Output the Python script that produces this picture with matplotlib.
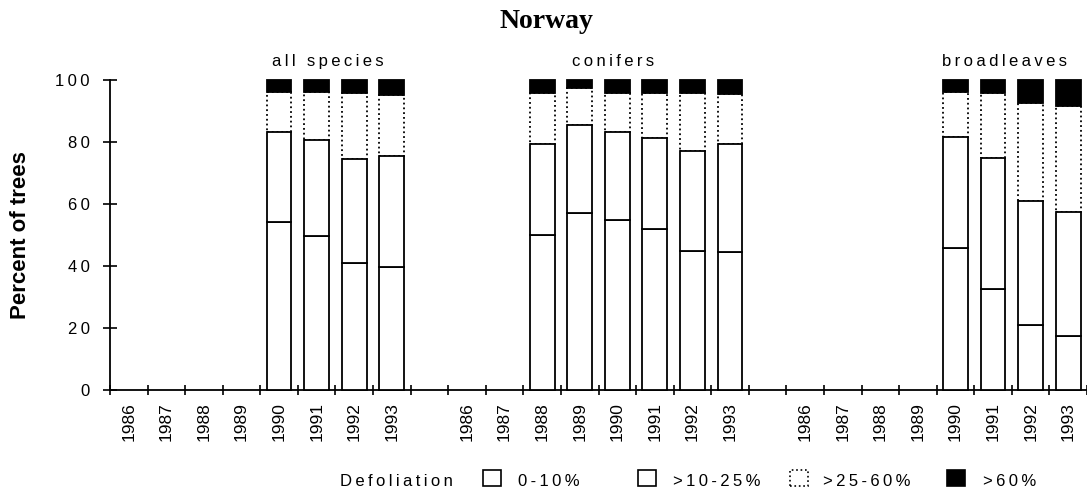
import numpy as np
import matplotlib.pyplot as plt
from matplotlib.patches import Rectangle

# data (percent of trees per defoliation class)
years = ['1986', '1987', '1988', '1989', '1990', '1991', '1992', '1993']
groups = ['all species', 'conifers', 'broadleaves']
classes = ['0-10%', '>10-25%', '>25-60%', '>60%']

nan = np.nan
all_d0 = [nan, nan, nan, nan, 54.1, 49.8, 40.9, 39.8]
all_d1 = [nan, nan, nan, nan, 29.2, 30.8, 33.5, 35.8]
all_d2 = [nan, nan, nan, nan, 12.9, 15.4, 21.3, 19.6]
all_d3 = [nan, nan, nan, nan, 3.8, 4.0, 4.3, 4.8]

con_d0 = [nan, nan, 50.0, 57.2, 54.8, 51.8, 44.8, 44.6]
con_d1 = [nan, nan, 29.4, 28.2, 28.4, 29.4, 32.4, 34.6]
con_d2 = [nan, nan, 16.3, 11.9, 12.7, 14.7, 18.7, 16.3]
con_d3 = [nan, nan, 4.3, 2.7, 4.1, 4.1, 4.1, 4.5]

brd_d0 = [nan, nan, nan, nan, 45.9, 32.6, 21.0, 17.4]
brd_d1 = [nan, nan, nan, nan, 35.8, 42.3, 40.1, 40.1]
brd_d2 = [nan, nan, nan, nan, 14.3, 20.8, 31.6, 34.1]
brd_d3 = [nan, nan, nan, nan, 4.0, 4.3, 7.3, 8.4]

series = [
    [all_d0, all_d1, all_d2, all_d3],
    [con_d0, con_d1, con_d2, con_d3],
    [brd_d0, brd_d1, brd_d2, brd_d3],
]

SANS = ['Liberation Sans', 'DejaVu Sans']


def spaced(s):
    # the scanned figure has wide letter spacing
    return '\u2009'.join(s)


# face, edge style, zorder per class
styles = [
    dict(facecolor='white', edgecolor='black', linestyle='-', zorder=3),
    dict(facecolor='white', edgecolor='black', linestyle='-', zorder=3),
    dict(facecolor='white', edgecolor='black', linestyle=':', zorder=2),
    dict(facecolor='black', edgecolor='black', linestyle='-', zorder=3),
]

W, H = 1087, 495
fig = plt.figure(figsize=(W / 100, H / 100), dpi=100)
ax = fig.add_axes([110 / W, 1 - 390 / H, 977 / W, 310 / H])

slot = 9  # 8 years + one empty slot between groups
centers = []
for g, grp in enumerate(series):
    x = g * slot + np.arange(len(years))
    centers.extend(x)
    bottom = np.zeros(len(years))
    for k, vals in enumerate(grp):
        v = np.array(vals, dtype=float)
        m = ~np.isnan(v)
        ax.bar(x[m], v[m], bottom=bottom[m], width=0.66, linewidth=1.3,
               clip_on=False, **styles[k])
        bottom = bottom + np.nan_to_num(v)

ax.set_xlim(-0.5, 3 * slot - 1 - 0.5)
ax.set_ylim(0, 100)

ax.spines['top'].set_visible(False)
ax.spines['right'].set_visible(False)
for s in ('left', 'bottom'):
    ax.spines[s].set_linewidth(1.3)

ax.set_xticks(centers)
ax.set_xticklabels(years * 3, rotation=90, family=SANS, fontsize=12.5)
ax.tick_params(axis='x', which='major', length=0, pad=8.5)
ax.set_xticks(np.arange(-0.5, 3 * slot - 1), minor=True)
ax.tick_params(axis='x', which='minor', direction='inout', length=6.5, width=1.2)

yt = list(range(0, 101, 20))
ax.set_yticks(yt)
ax.set_yticklabels([spaced(str(v)) for v in yt], family=SANS, fontsize=12)
ax.tick_params(axis='y', direction='inout', length=9.5, width=1.2, pad=10)

# group labels above the bars
label_x = [5.3, 12.9, 23.3]
for gx, name in zip(label_x, groups):
    ax.text(gx, 104.4, spaced(name), ha='center', va='baseline',
            family=SANS, fontsize=12, clip_on=False)

fig.text(546 / W, 1 - 28 / H, 'Norway', ha='center', va='baseline',
         family='Liberation Serif', weight='bold', fontsize=20)
fig.text(21 / W, 1 - 235 / H, 'Percent of trees', rotation=90, ha='center',
         va='center', family=SANS, weight='bold', fontsize=16)

# legend row
base = 1 - 486 / H
fig.text(340 / W, base, spaced('Defoliation'), ha='left', va='baseline',
         family=SANS, fontsize=12)
box_left = [483, 638, 790, 947]
text_left = [518, 673, 823, 983]
for k, name in enumerate(classes):
    st = styles[k]
    fig.patches.append(Rectangle((box_left[k] / W, base), 18 / W, 16 / H,
                                 transform=fig.transFigure, facecolor=st['facecolor'],
                                 edgecolor='black', linestyle=st['linestyle'], linewidth=1.2))
    fig.text(text_left[k] / W, base, spaced(name), ha='left', va='baseline',
             family=SANS, fontsize=12)

fig.savefig('out.png', dpi=100)
